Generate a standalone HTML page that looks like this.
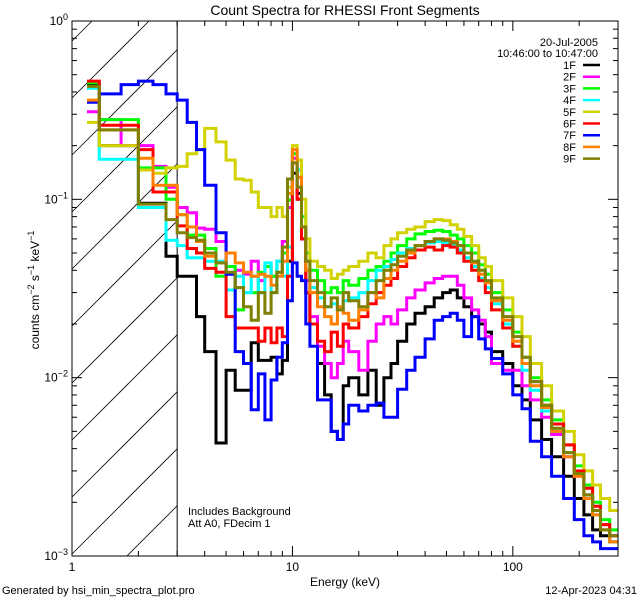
<!DOCTYPE html>
<html><head><meta charset="utf-8">
<style>
html,body{margin:0;padding:0;background:#fff;width:640px;height:600px;overflow:hidden;}
svg{display:block;font-family:"Liberation Sans",sans-serif;}
</style></head>
<body>
<svg id="chart" width="640" height="600" viewBox="0 0 640 600" xmlns="http://www.w3.org/2000/svg">
<rect x="0" y="0" width="640" height="600" fill="#fff"/>
<text x="345" y="15" font-size="14" text-anchor="middle">Count Spectra for RHESSI Front Segments</text>
<g id="hatch"></g>
<g id="series"></g>
<g id="axes"></g>
<g id="legend"></g>
<text transform="translate(39,290) rotate(-90)" font-size="12" text-anchor="middle">counts cm<tspan dy="-5" font-size="9">−2</tspan><tspan dy="5"> s</tspan><tspan dy="-5" font-size="9">−1</tspan><tspan dy="5"> keV</tspan><tspan dy="-5" font-size="9">−1</tspan></text>
<text x="345" y="586" font-size="12" text-anchor="middle">Energy (keV)</text>
<text x="188" y="515" font-size="11">Includes Background</text>
<text x="188" y="527" font-size="11">Att A0, FDecim 1</text>
<text x="2" y="594" font-size="11">Generated by hsi_min_spectra_plot.pro</text>
<text x="637" y="594" font-size="11" text-anchor="end">12-Apr-2023 04:31</text>
</svg>
<script>
const energyEdges=[1.17,1.33,1.67,2,2.33,2.67,3,3.33,3.67,4,4.5,5,5.5,6,6.5,7,7.5,8,8.5,9,9.5,10,10.5,11,11.5,12,13,14,15,16,17,18,20,22,24,26,28,30,33,36,40,44,48,52,56,60,65,70,75,80,90,100,110,120,135,150,170,190,210,230,250,275,300];
const seriesNames=["1F","2F","3F","4F","5F","6F","7F","8F","9F"];
const s1F=[0.44,0.2,0.2,0.095,0.095,0.048,0.037,0.037,0.022,0.014,0.0043,0.011,0.0085,0.0085,0.0157,0.0125,0.0125,0.013,0.0105,0.0125,0.045,0.14,0.108,0.06,0.03,0.02,0.012,0.008,0.005,0.0045,0.009,0.01,0.008,0.011,0.007,0.01,0.012,0.016,0.02,0.023,0.025,0.028,0.03,0.031,0.028,0.025,0.022,0.02,0.018,0.014,0.012,0.009,0.0075,0.0058,0.0045,0.0036,0.0028,0.0021,0.0017,0.0014,0.0013,0.0012];
const s2F=[0.31,0.28,0.2,0.2,0.153,0.117,0.09,0.084,0.069,0.068,0.058,0.042,0.04,0.038,0.045,0.035,0.042,0.037,0.045,0.058,0.09,0.17,0.1,0.06,0.035,0.022,0.015,0.012,0.01,0.012,0.016,0.014,0.011,0.016,0.02,0.022,0.02,0.024,0.028,0.031,0.034,0.036,0.037,0.037,0.033,0.028,0.024,0.021,0.017,0.012,0.011,0.011,0.009,0.0075,0.006,0.0048,0.0036,0.0028,0.0022,0.0018,0.0015,0.0013];
const s3F=[0.45,0.28,0.28,0.15,0.15,0.1,0.082,0.063,0.063,0.053,0.037,0.042,0.024,0.03,0.03,0.039,0.042,0.037,0.045,0.05,0.099,0.18,0.146,0.08,0.05,0.04,0.035,0.03,0.032,0.03,0.035,0.033,0.036,0.04,0.042,0.045,0.05,0.055,0.06,0.064,0.066,0.067,0.066,0.063,0.06,0.055,0.05,0.043,0.038,0.03,0.024,0.018,0.013,0.01,0.0075,0.0058,0.0042,0.0032,0.0025,0.002,0.0016,0.0014];
const s4F=[0.42,0.168,0.168,0.09,0.09,0.059,0.055,0.047,0.047,0.045,0.045,0.031,0.037,0.03,0.037,0.03,0.044,0.03,0.045,0.037,0.054,0.19,0.146,0.07,0.04,0.032,0.028,0.025,0.026,0.024,0.027,0.028,0.03,0.035,0.04,0.042,0.046,0.05,0.053,0.055,0.057,0.058,0.057,0.055,0.052,0.047,0.042,0.036,0.032,0.026,0.02,0.015,0.011,0.0085,0.0065,0.005,0.0038,0.0029,0.0022,0.0017,0.0014,0.0012];
const s5F=[0.27,0.2,0.2,0.146,0.14,0.15,0.153,0.18,0.19,0.25,0.21,0.166,0.13,0.128,0.11,0.09,0.09,0.08,0.09,0.08,0.117,0.2,0.166,0.1,0.06,0.045,0.042,0.04,0.036,0.038,0.04,0.042,0.045,0.05,0.047,0.055,0.06,0.065,0.068,0.07,0.075,0.077,0.076,0.072,0.068,0.062,0.055,0.047,0.042,0.035,0.028,0.022,0.017,0.012,0.009,0.0065,0.005,0.0037,0.003,0.0025,0.0021,0.0018];
const s6F=[0.46,0.26,0.26,0.19,0.11,0.11,0.071,0.053,0.05,0.041,0.039,0.022,0.019,0.019,0.019,0.016,0.019,0.0157,0.019,0.017,0.037,0.16,0.1,0.06,0.03,0.02,0.016,0.014,0.018,0.015,0.02,0.019,0.022,0.026,0.03,0.033,0.036,0.042,0.047,0.052,0.054,0.052,0.055,0.054,0.05,0.045,0.04,0.035,0.03,0.024,0.019,0.015,0.012,0.0095,0.007,0.0055,0.0042,0.003,0.0024,0.0019,0.0015,0.0013];
const s7F=[0.35,0.39,0.44,0.46,0.44,0.39,0.36,0.27,0.19,0.12,0.065,0.038,0.014,0.012,0.0066,0.0105,0.0058,0.0097,0.013,0.0157,0.027,0.044,0.037,0.035,0.02,0.015,0.0075,0.0075,0.005,0.0045,0.0055,0.007,0.0065,0.007,0.0072,0.006,0.006,0.0086,0.011,0.013,0.0165,0.021,0.022,0.023,0.021,0.017,0.022,0.0165,0.0145,0.0128,0.0105,0.008,0.0067,0.0044,0.0036,0.0028,0.0021,0.0016,0.0013,0.0012,0.0011,0.0011];
const s8F=[0.36,0.245,0.245,0.17,0.12,0.12,0.082,0.07,0.058,0.048,0.044,0.05,0.044,0.039,0.037,0.038,0.037,0.033,0.037,0.045,0.108,0.19,0.133,0.07,0.04,0.03,0.025,0.022,0.02,0.025,0.023,0.021,0.024,0.03,0.028,0.036,0.04,0.045,0.05,0.055,0.058,0.06,0.06,0.058,0.055,0.05,0.044,0.038,0.034,0.027,0.021,0.016,0.012,0.009,0.0068,0.005,0.0036,0.0028,0.0021,0.0017,0.0014,0.0012];
const s9F=[0.43,0.245,0.245,0.094,0.094,0.077,0.065,0.061,0.059,0.05,0.044,0.039,0.032,0.025,0.021,0.03,0.023,0.03,0.039,0.054,0.13,0.16,0.117,0.07,0.045,0.035,0.03,0.025,0.028,0.024,0.03,0.027,0.025,0.03,0.035,0.04,0.043,0.048,0.052,0.055,0.058,0.06,0.059,0.057,0.055,0.05,0.045,0.04,0.035,0.028,0.022,0.017,0.013,0.0095,0.007,0.0052,0.0038,0.0029,0.0022,0.0018,0.0014,0.0013];
const seriesValues=[s1F,s2F,s3F,s4F,s5F,s6F,s7F,s8F,s9F];
const seriesColors=["#000000","#ff00ff","#00ff00","#00ffff","#d2d200","#ff0000","#0000ff","#ff8000","#7f7f00"];
const xDomain=[1,300], yDomain=[0.001,1];
const X0=72,X1=618,Y0=556,Y1=21;
const NS="http://www.w3.org/2000/svg";
function xs(e){return X0+(Math.log10(e)-Math.log10(xDomain[0]))/(Math.log10(xDomain[1])-Math.log10(xDomain[0]))*(X1-X0);}
function ys(v){v=Math.max(v,yDomain[0]);return Y0-(Math.log10(v)-Math.log10(yDomain[0]))/(Math.log10(yDomain[1])-Math.log10(yDomain[0]))*(Y0-Y1);}
function mk(tag,attrs,parent){const el=document.createElementNS(NS,tag);for(const k in attrs)el.setAttribute(k,attrs[k]);parent.appendChild(el);return el;}

const svgEl=document.getElementById('chart');
const defs=mk('defs',{},svgEl);
// hatch: 45-degree lines computed analytically inside [X0,XH]x[Y1,Y0]
const hatch=document.getElementById('hatch');
const XH=xs(3);
const W=XH-X0;
for(let b=Y1+20;b<Y0+W;b+=57){
  // line y = b - (x - X0)
  let xa=X0, ya=b;
  if(ya>Y0){xa=X0+(ya-Y0);ya=Y0;}
  let xb=XH, yb=b-W;
  if(yb<Y1){xb=X0+(b-Y1);yb=Y1;}
  if(xa>=xb) continue;
  const ln=mk('line',{x1:xa,y1:ya,x2:xb,y2:yb,stroke:'#000','stroke-width':0.8},hatch);
  
  
}
const bl=mk('line',{x1:XH,y1:Y1,x2:XH,y2:Y0,stroke:'#000','stroke-width':1},hatch);



// series
const sg=document.getElementById('series');
const cp2=mk('clipPath',{id:'pclip'},defs);
mk('rect',{x:X0,y:Y1,width:X1-X0,height:Y0-Y1},cp2);
sg.setAttribute('clip-path','url(#pclip)');
seriesValues.forEach((vals,si)=>{
  let d='';
  for(let i=0;i<vals.length;i++){
    const xa=xs(energyEdges[i]),xb=xs(energyEdges[i+1]),y=ys(vals[i]);
    d+=(i===0?'M':'L')+xa.toFixed(1)+','+y.toFixed(1)+'L'+xb.toFixed(1)+','+y.toFixed(1);
  }
  const p=mk('path',{d:d,fill:'none',stroke:seriesColors[si],'stroke-width':3,'stroke-linejoin':'miter'},sg);
  
  
});

// axes
const ax=document.getElementById('axes');
const fr=mk('rect',{x:X0,y:Y1,width:X1-X0,height:Y0-Y1,fill:'none',stroke:'#000','stroke-width':1},ax);


const xMajor=[1,10,100], xMajorLabels=["1","10","100"];
for(let dec=1;dec<=100;dec*=10){for(let m=1;m<10;m++){const e=dec*m;if(e>300)break;const x=xs(e);const L=(m===1)?10:5;
  mk('line',{x1:x,y1:Y0,x2:x,y2:Y0-L,stroke:'#000'},ax);mk('line',{x1:x,y1:Y1,x2:x,y2:Y1+L,stroke:'#000'},ax);}}
xMajor.forEach((e,i)=>{const t=mk('text',{x:xs(e),y:Y0+15,'font-size':12,'text-anchor':'middle'},ax);t.textContent=xMajorLabels[i];
  
  });
const yMajor=[0.001,0.01,0.1,1], yMajorExp=["−3","−2","−1","0"];
for(let dec=0.001;dec<1;dec*=10){for(let m=1;m<10;m++){const v=dec*m;const y=ys(v);const L=(m===1)?10:5;
  mk('line',{x1:X0,y1:y,x2:X0+L,y2:y,stroke:'#000'},ax);mk('line',{x1:X1,y1:y,x2:X1-L,y2:y,stroke:'#000'},ax);}}
yMajor.forEach((v,i)=>{const t=mk('text',{x:X0-4,y:ys(v)+4,'font-size':12,'text-anchor':'end'},ax);
  t.innerHTML='10<tspan dy="-5" font-size="9">'+yMajorExp[i]+'</tspan>';
  
  });

// legend
const lg=document.getElementById('legend');
const d1=mk('text',{x:598,y:46,'font-size':11,'text-anchor':'end'},lg);d1.textContent='20-Jul-2005';


const d2=mk('text',{x:598,y:57,'font-size':11,'text-anchor':'end'},lg);d2.textContent='10:46:00 to 10:47:00';


seriesNames.forEach((n,i)=>{const y=65+i*11.7;
  const t=mk('text',{x:576,y:y+4,'font-size':11,'text-anchor':'end'},lg);t.textContent=n;
  
  
  const l=mk('line',{x1:583,y1:y,x2:600,y2:y,stroke:seriesColors[i],'stroke-width':2.5},lg);
  
  });
</script>
</body></html>
